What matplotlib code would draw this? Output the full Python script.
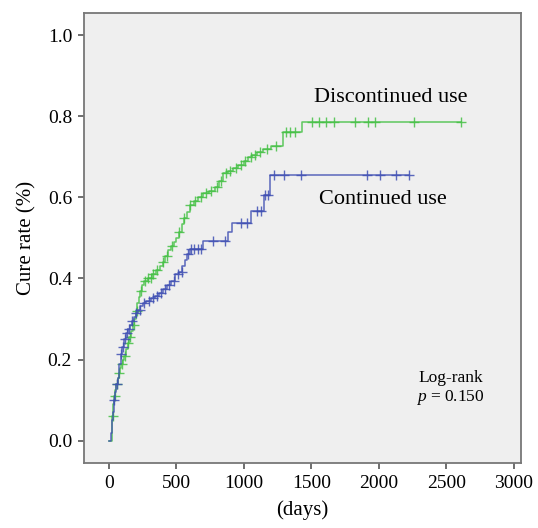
import numpy as np
import matplotlib
matplotlib.use("Agg")
import matplotlib.pyplot as plt

plt.rcParams['font.family'] = ['Liberation Serif', 'DejaVu Serif']
plt.rcParams['mathtext.fontset'] = 'custom'
plt.rcParams['mathtext.rm'] = 'Liberation Serif'
plt.rcParams['mathtext.it'] = 'Liberation Serif:italic'

# Discontinued use: step times (days) and cumulative cure rate
disc_t = [0, 22, 28, 35, 42, 50, 58, 66, 75, 85, 95, 105, 115, 128, 140, 152, 165,
          178, 190, 200, 212, 222, 232, 245, 262, 290, 320, 350, 380, 400, 420, 440,
          460, 480, 500, 520, 540, 560, 580, 600, 630, 660, 700, 740, 790, 815, 845,
          880, 920, 960, 1000, 1030, 1060, 1100, 1140, 1200, 1290, 1430]
disc_y = [0.0, 0.03, 0.06, 0.09, 0.11, 0.125, 0.14, 0.155, 0.168, 0.18, 0.19, 0.20,
          0.21, 0.225, 0.24, 0.255, 0.27, 0.285, 0.30, 0.32, 0.34, 0.355, 0.37, 0.385,
          0.395, 0.40, 0.41, 0.42, 0.43, 0.44, 0.455, 0.47, 0.48, 0.49, 0.50, 0.515,
          0.535, 0.55, 0.565, 0.58, 0.59, 0.60, 0.61, 0.615, 0.625, 0.64, 0.66, 0.665,
          0.672, 0.68, 0.69, 0.70, 0.705, 0.712, 0.72, 0.726, 0.76, 0.785]
disc_cens = [30, 45, 60, 80, 100, 120, 140, 160, 185, 210, 240, 270, 290, 310, 330,
             360, 400, 430, 470, 520, 560, 600, 640, 680, 720, 760, 800, 830, 870, 900,
             940, 980, 1010, 1050, 1080, 1120, 1170, 1240, 1310, 1340, 1380, 1508, 1553,
             1605, 1664, 1820, 1917, 1969, 2259, 2608]

# Continued use
cont_t = [0, 15, 22, 30, 37, 45, 55, 67, 78, 89, 100, 112, 126, 140, 155, 170, 185,
          200, 215, 235, 255, 280, 310, 340, 370, 400, 430, 460, 490, 520, 545, 565,
          580, 600, 700, 885, 915, 1055, 1152, 1196]
cont_y = [0.0, 0.02, 0.05, 0.07, 0.10, 0.12, 0.14, 0.155, 0.19, 0.215, 0.23, 0.25,
          0.265, 0.275, 0.285, 0.295, 0.305, 0.315, 0.322, 0.332, 0.34, 0.345, 0.352,
          0.358, 0.365, 0.375, 0.385, 0.395, 0.41, 0.415, 0.43, 0.445, 0.46, 0.472,
          0.493, 0.515, 0.537, 0.567, 0.607, 0.656]
cont_cens = [40, 60, 90, 105, 120, 135, 150, 170, 200, 230, 260, 300, 330, 360, 390,
             420, 450, 480, 510, 540, 585, 609, 631, 661, 683, 773, 862, 981, 1025, 1100,
             1129, 1160, 1180, 1226, 1300, 1426, 1909, 2006, 2125, 2221]

green = '#45c045'
blue = '#3f4fb3'


def step_curve(ax, t, y, cens, color):
    t_end = max(cens[-1], t[-1])
    ts = list(t) + [t_end]
    ys = list(y) + [y[-1]]
    ax.step(ts, ys, where='post', color=color, lw=1.1, alpha=0.85)
    idx = np.searchsorted(t, cens, side='right') - 1
    cy = np.array(y)[idx]
    ax.plot(cens, cy, ls='none', marker='+', ms=7, mew=1.0, color=color, alpha=0.85)


fig = plt.figure(figsize=(5.38, 5.28), dpi=100)
ax = fig.add_axes([0.156, 0.123, 0.812, 0.852])
ax.set_facecolor('#efefef')

step_curve(ax, disc_t, disc_y, disc_cens, green)
step_curve(ax, cont_t, cont_y, cont_cens, blue)

ax.set_xlim(-183, 3050)
ax.set_ylim(-0.055, 1.054)
ax.set_xticks([0, 500, 1000, 1500, 2000, 2500, 3000])
ax.set_yticks([0.0, 0.2, 0.4, 0.6, 0.8, 1.0])
ax.set_yticklabels(['0.0', '0.2', '0.4', '0.6', '0.8', '1.0'])
ax.tick_params(labelsize=14, length=4.5, width=1.2, color='#555555', pad=4)
for s in ax.spines.values():
    s.set_color('#777777')
    s.set_linewidth(1.3)

ax.set_xlabel('(days)', fontsize=15, labelpad=6)
ax.set_ylabel('Cure rate (%)', fontsize=15, labelpad=8)

ax.text(2090, 0.845, 'Discontinued use', fontsize=16, ha='center', va='center')
ax.text(2030, 0.595, 'Continued use', fontsize=16, ha='center', va='center')
ax.text(2530, 0.155, 'Log-rank', fontsize=12.5, ha='center', va='center')
ax.text(2530, 0.107, r'$p$ = 0.150', fontsize=12.5, ha='center', va='center')

fig.savefig('out.png', dpi=100)
